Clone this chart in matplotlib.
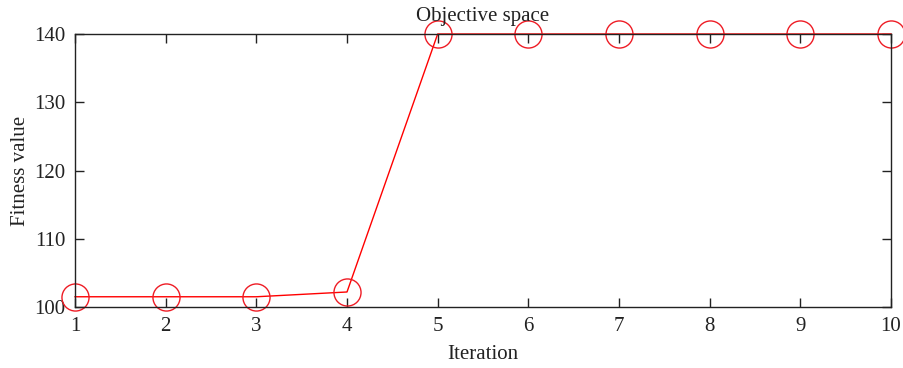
import matplotlib
matplotlib.use("Agg")
import matplotlib.pyplot as plt

iterations = [1, 2, 3, 4, 5, 6, 7, 8, 9, 10]
fitness = [101.5, 101.5, 101.5, 102.2, 140, 140, 140, 140, 140, 140]
xticks = [1, 2, 3, 4, 5, 6, 7, 8, 9, 10]
yticks = [100, 110, 120, 130, 140]

plt.rcParams['font.family'] = ['Liberation Serif', 'DejaVu Serif']
plt.rcParams['font.size'] = 15

fig = plt.figure(figsize=(9.04, 3.68), dpi=100)
ax = fig.add_axes([75/904, 1-307/368, (891-75)/904, (307-34)/368])
ax.plot(iterations, fitness, color='#ff0000', lw=1.0, marker='o', markersize=19.5,
        markerfacecolor='none', markeredgecolor='#ee1c25', markeredgewidth=1.0, clip_on=False)
ax.set_xlim(1, 10)
ax.set_ylim(100, 140)
ax.set_xticks(xticks)
ax.set_yticks(yticks)
ax.tick_params(direction='in', top=True, right=True, length=6.5, width=1, colors='#222222', labelsize=15)
ax.tick_params(axis='y', pad=7)
ax.tick_params(axis='x', pad=7)
for s in ax.spines.values():
    s.set_color('#222222')
    s.set_linewidth(1.0)
ax.set_xlabel('Iteration', fontsize=15, labelpad=7, color='#222222')
ax.set_ylabel('Fitness value', fontsize=15, labelpad=3, color='#222222')
ax.set_title('Objective space', fontsize=15, pad=9, color='#222222')
fig.savefig('out.png', dpi=100)
